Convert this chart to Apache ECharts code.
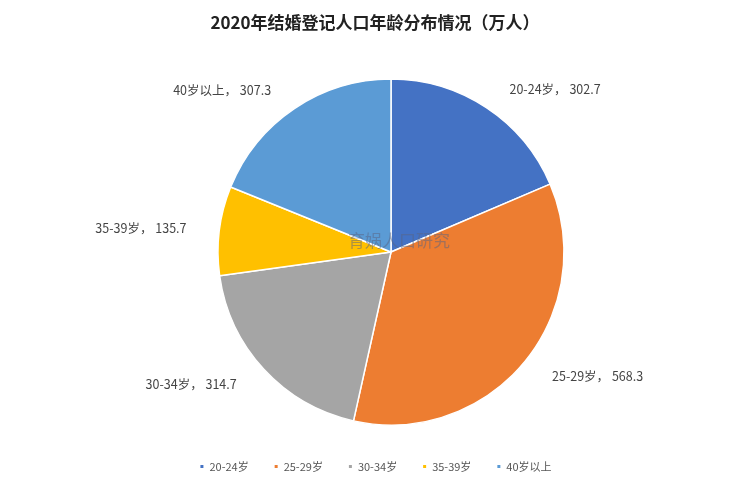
<!DOCTYPE html>
<html><head><meta charset="utf-8">
<script src="https://cdn.jsdelivr.net/npm/echarts@6/dist/echarts.min.js"></script>
<style>html,body{margin:0;padding:0;background:#fff}#c{width:750px;height:500px}</style>
</head><body><div id="c"></div>
<script>
const categories = ['20-24岁','25-29岁','30-34岁','35-39岁','40岁以上'];
const values = [302.7, 568.3, 314.7, 135.7, 307.3];
const colors = ['#4472C4','#ED7D31','#A5A5A5','#FFC000','#5B9BD5'];
const titleText = '2020年结婚登记人口年龄分布情况（万人）';
const chart = echarts.init(document.getElementById('c'));
chart.setOption({
  backgroundColor: '#fff',
  title: { text: titleText, left: 'center', top: 9,
    textStyle: { fontFamily: 'Noto Sans CJK SC', fontWeight: 'bold', fontSize: 17, color: '#222' } },
  legend: { bottom: 23, left: 'center', itemWidth: 5, itemHeight: 5, itemGap: 24, icon: 'rect',
    textStyle: { fontFamily: 'Noto Sans CJK SC', fontSize: 11, color: '#555' } },
  graphic: [{ type: 'text', left: 348, top: 232, z: 100,
    style: { text: '育娲人口研究', fontFamily: 'Noto Sans CJK SC', fontSize: 17, fill: 'rgba(90,100,130,0.5)' } }],
  series: [{
    type: 'pie', center: [391, 252], radius: [0, 173], startAngle: 90, clockwise: true,
    color: colors,
    itemStyle: { borderColor: '#fff', borderWidth: 1.5 },
    label: { show: true, position: 'outside', formatter: '{b}， {c}',
      fontFamily: 'Noto Sans CJK SC', fontSize: 12.5, color: '#444' },
    labelLine: { show: false, length: 22, length2: 6 },
    data: categories.map((c, i) => ({ name: c, value: values[i] }))
  }]
});
</script></body></html>
